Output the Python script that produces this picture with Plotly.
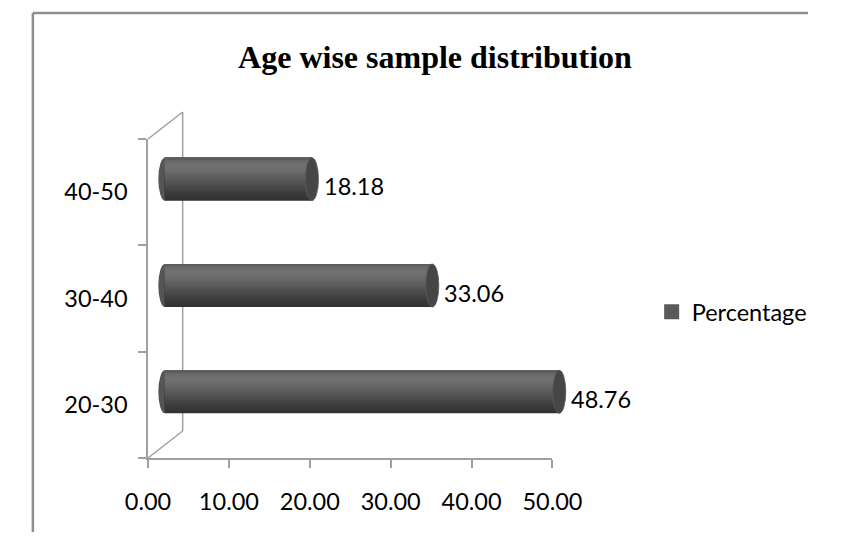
import plotly.graph_objects as go

# ---------------- data ----------------
categories = ["20-30", "30-40", "40-50"]
percentage = [48.76, 33.06, 18.18]
x_ticks = [0, 10, 20, 30, 40, 50]
series_name = "Percentage"
title_text = "Age wise sample distribution"

# ---------------- geometry (window pixels) ----------------
WIN_W, WIN_H = 846, 540
OFF = 8                              # page body margin
FW, FH = WIN_W - 2 * OFF, WIN_H - 2 * OFF
X_LEFT, X_RIGHT = 133, 565          # front x-axis: 0 .. 50
Y_TOP, Y_BOT = 139, 458             # front category axis
PX_PER_UNIT = (X_RIGHT - X_LEFT) / 50
DX, DY = 18, 13                     # bars sit at mid depth
BACK_DX, BACK_DY = 37, 27           # back wall offset
X2_MIN, X2_MAX = -2, 55


def fx(x):
    return min(max((x - OFF) / FW, 0), 1)


def fy(y):
    return min(max(1 - (y - OFF) / FH, 0), 1)


bar_w = 0.404
cap_rx = 7 / PX_PER_UNIT

AX_COL = "#a0a0a0"
FONT = "Lato"
FS = 23.5

fig = go.Figure()

# cylinder shading: grey level stops from bottom (0) to top (1)
shade_stops = [(0.0, 0x30), (0.15, 0x3a), (0.45, 0x55), (0.70, 0x6c), (0.82, 0x71),
               (0.93, 0x68), (1.0, 0x58)]
n = 24


def grey_at(t):
    for (t0, g0), (t1, g1) in zip(shade_stops[:-1], shade_stops[1:]):
        if t0 <= t <= t1:
            g = int(round(g0 + (g1 - g0) * (t - t0) / (t1 - t0)))
            return f"#{g:02x}{g:02x}{g:02x}"
    return "#555555"


bw = bar_w / n
for k in range(n):
    t = (k + 0.5) / n
    fig.add_trace(go.Bar(
        y=categories, x=percentage, orientation="h",
        xaxis="x2", yaxis="y2",
        width=bar_w - k * bw,
        offset=-bar_w / 2 + k * bw,
        marker=dict(color=grey_at(t), line=dict(width=0)),
        showlegend=False, hoverinfo="skip",
    ))

# legend entry / category registration on the front axes
fig.add_trace(go.Scatter(
    x=[None] * len(categories), y=categories, mode="markers",
    marker=dict(symbol="square", size=15, color="#5a5a5a"),
    name=series_name, xaxis="x", yaxis="y",
))

shapes = []
# chart border (top and left edges visible; right/bottom are off the picture)
shapes.append(dict(type="line", xref="paper", yref="paper",
                   x0=fx(10), x1=1, y0=fy(13), y1=fy(13),
                   line=dict(color="#8e8e8e", width=2.5), layer="below"))
shapes.append(dict(type="line", xref="paper", yref="paper",
                   x0=fx(10), x1=fx(10), y0=fy(13), y1=0,
                   line=dict(color="#8e8e8e", width=2.5), layer="below"))
# back wall + depth lines
bx = X_LEFT + BACK_DX
shapes.append(dict(type="line", xref="paper", yref="paper",
                   x0=fx(bx), x1=fx(bx), y0=fy(Y_TOP - BACK_DY), y1=fy(Y_BOT - BACK_DY),
                   line=dict(color=AX_COL, width=1.5), layer="below"))
shapes.append(dict(type="line", xref="paper", yref="paper",
                   x0=fx(X_LEFT), x1=fx(bx), y0=fy(Y_TOP), y1=fy(Y_TOP - BACK_DY),
                   line=dict(color=AX_COL, width=1.5), layer="below"))
shapes.append(dict(type="line", xref="paper", yref="paper",
                   x0=fx(X_LEFT), x1=fx(bx), y0=fy(Y_BOT), y1=fy(Y_BOT - BACK_DY),
                   line=dict(color=AX_COL, width=1.5), layer="below"))

# cylinder end caps
for i, v in enumerate(percentage):
    shapes.append(dict(type="circle", xref="x2", yref="y2",
                       x0=-cap_rx, x1=cap_rx, y0=i - bar_w / 2, y1=i + bar_w / 2,
                       fillcolor="#555555", line=dict(width=0), layer="below"))
    shapes.append(dict(type="circle", xref="x2", yref="y2",
                       x0=v - cap_rx, x1=v + cap_rx, y0=i - bar_w / 2, y1=i + bar_w / 2,
                       fillcolor="#464646", line=dict(color="#5a5a5a", width=0.8),
                       layer="above"))

annotations = []
for i, v in enumerate(percentage):
    annotations.append(dict(
        x=v, y=categories[i], xref="x2", yref="y2",
        text=f"{v:.2f}", showarrow=False, xanchor="left", yanchor="middle",
        xshift=7 + 3, yshift=-7,
        font=dict(family=FONT, size=FS, color="#000000"),
    ))

fig.update_layout(
    width=FW, height=FH,
    margin=dict(l=0, r=0, t=0, b=0),
    paper_bgcolor="white", plot_bgcolor="rgba(0,0,0,0)",
    barmode="overlay",
    title=dict(text=f"<b>{title_text}</b>", x=fx(435), y=fy(57),
               xref="container", yref="container",
               xanchor="center", yanchor="middle",
               font=dict(family="Liberation Serif", size=32, color="#000000")),
    xaxis=dict(domain=[fx(X_LEFT), fx(X_RIGHT)], range=[0, 50], anchor="y",
               tickvals=x_ticks, tickformat=".2f",
               showline=True, linecolor=AX_COL, linewidth=1.5,
               ticks="outside", ticklen=8, tickcolor=AX_COL, tickwidth=1.5,
               showgrid=False, zeroline=False, ticklabelstandoff=14,
               tickfont=dict(family=FONT, size=FS, color="#000000"),
               fixedrange=True),
    yaxis=dict(domain=[fy(Y_BOT), fy(Y_TOP)], range=[-0.5, 2.5], anchor="x",
               type="category", categoryorder="array", categoryarray=categories,
               tickson="boundaries",
               showline=True, linecolor=AX_COL, linewidth=1.5,
               ticks="outside", ticklen=8, tickcolor=AX_COL, tickwidth=1.5,
               showgrid=False, zeroline=False, ticklabelstandoff=14,
               tickfont=dict(family=FONT, size=FS, color="#000000"),
               fixedrange=True),
    xaxis2=dict(domain=[fx(X_LEFT + DX + X2_MIN * PX_PER_UNIT),
                        fx(X_LEFT + DX + X2_MAX * PX_PER_UNIT)],
                range=[X2_MIN, X2_MAX], anchor="y2", visible=False, fixedrange=True),
    yaxis2=dict(domain=[fy(Y_BOT - DY), fy(Y_TOP - DY)], range=[-0.5, 2.5],
                anchor="x2", type="category", categoryorder="array",
                categoryarray=categories, visible=False, fixedrange=True),
    legend=dict(x=fx(671), y=fy(312), xanchor="left", yanchor="middle",
                bgcolor="rgba(0,0,0,0)",
                font=dict(family=FONT, size=FS, color="#000000")),
    shapes=shapes,
    annotations=annotations,
    showlegend=True,
)

fig.write_html("out.html")
